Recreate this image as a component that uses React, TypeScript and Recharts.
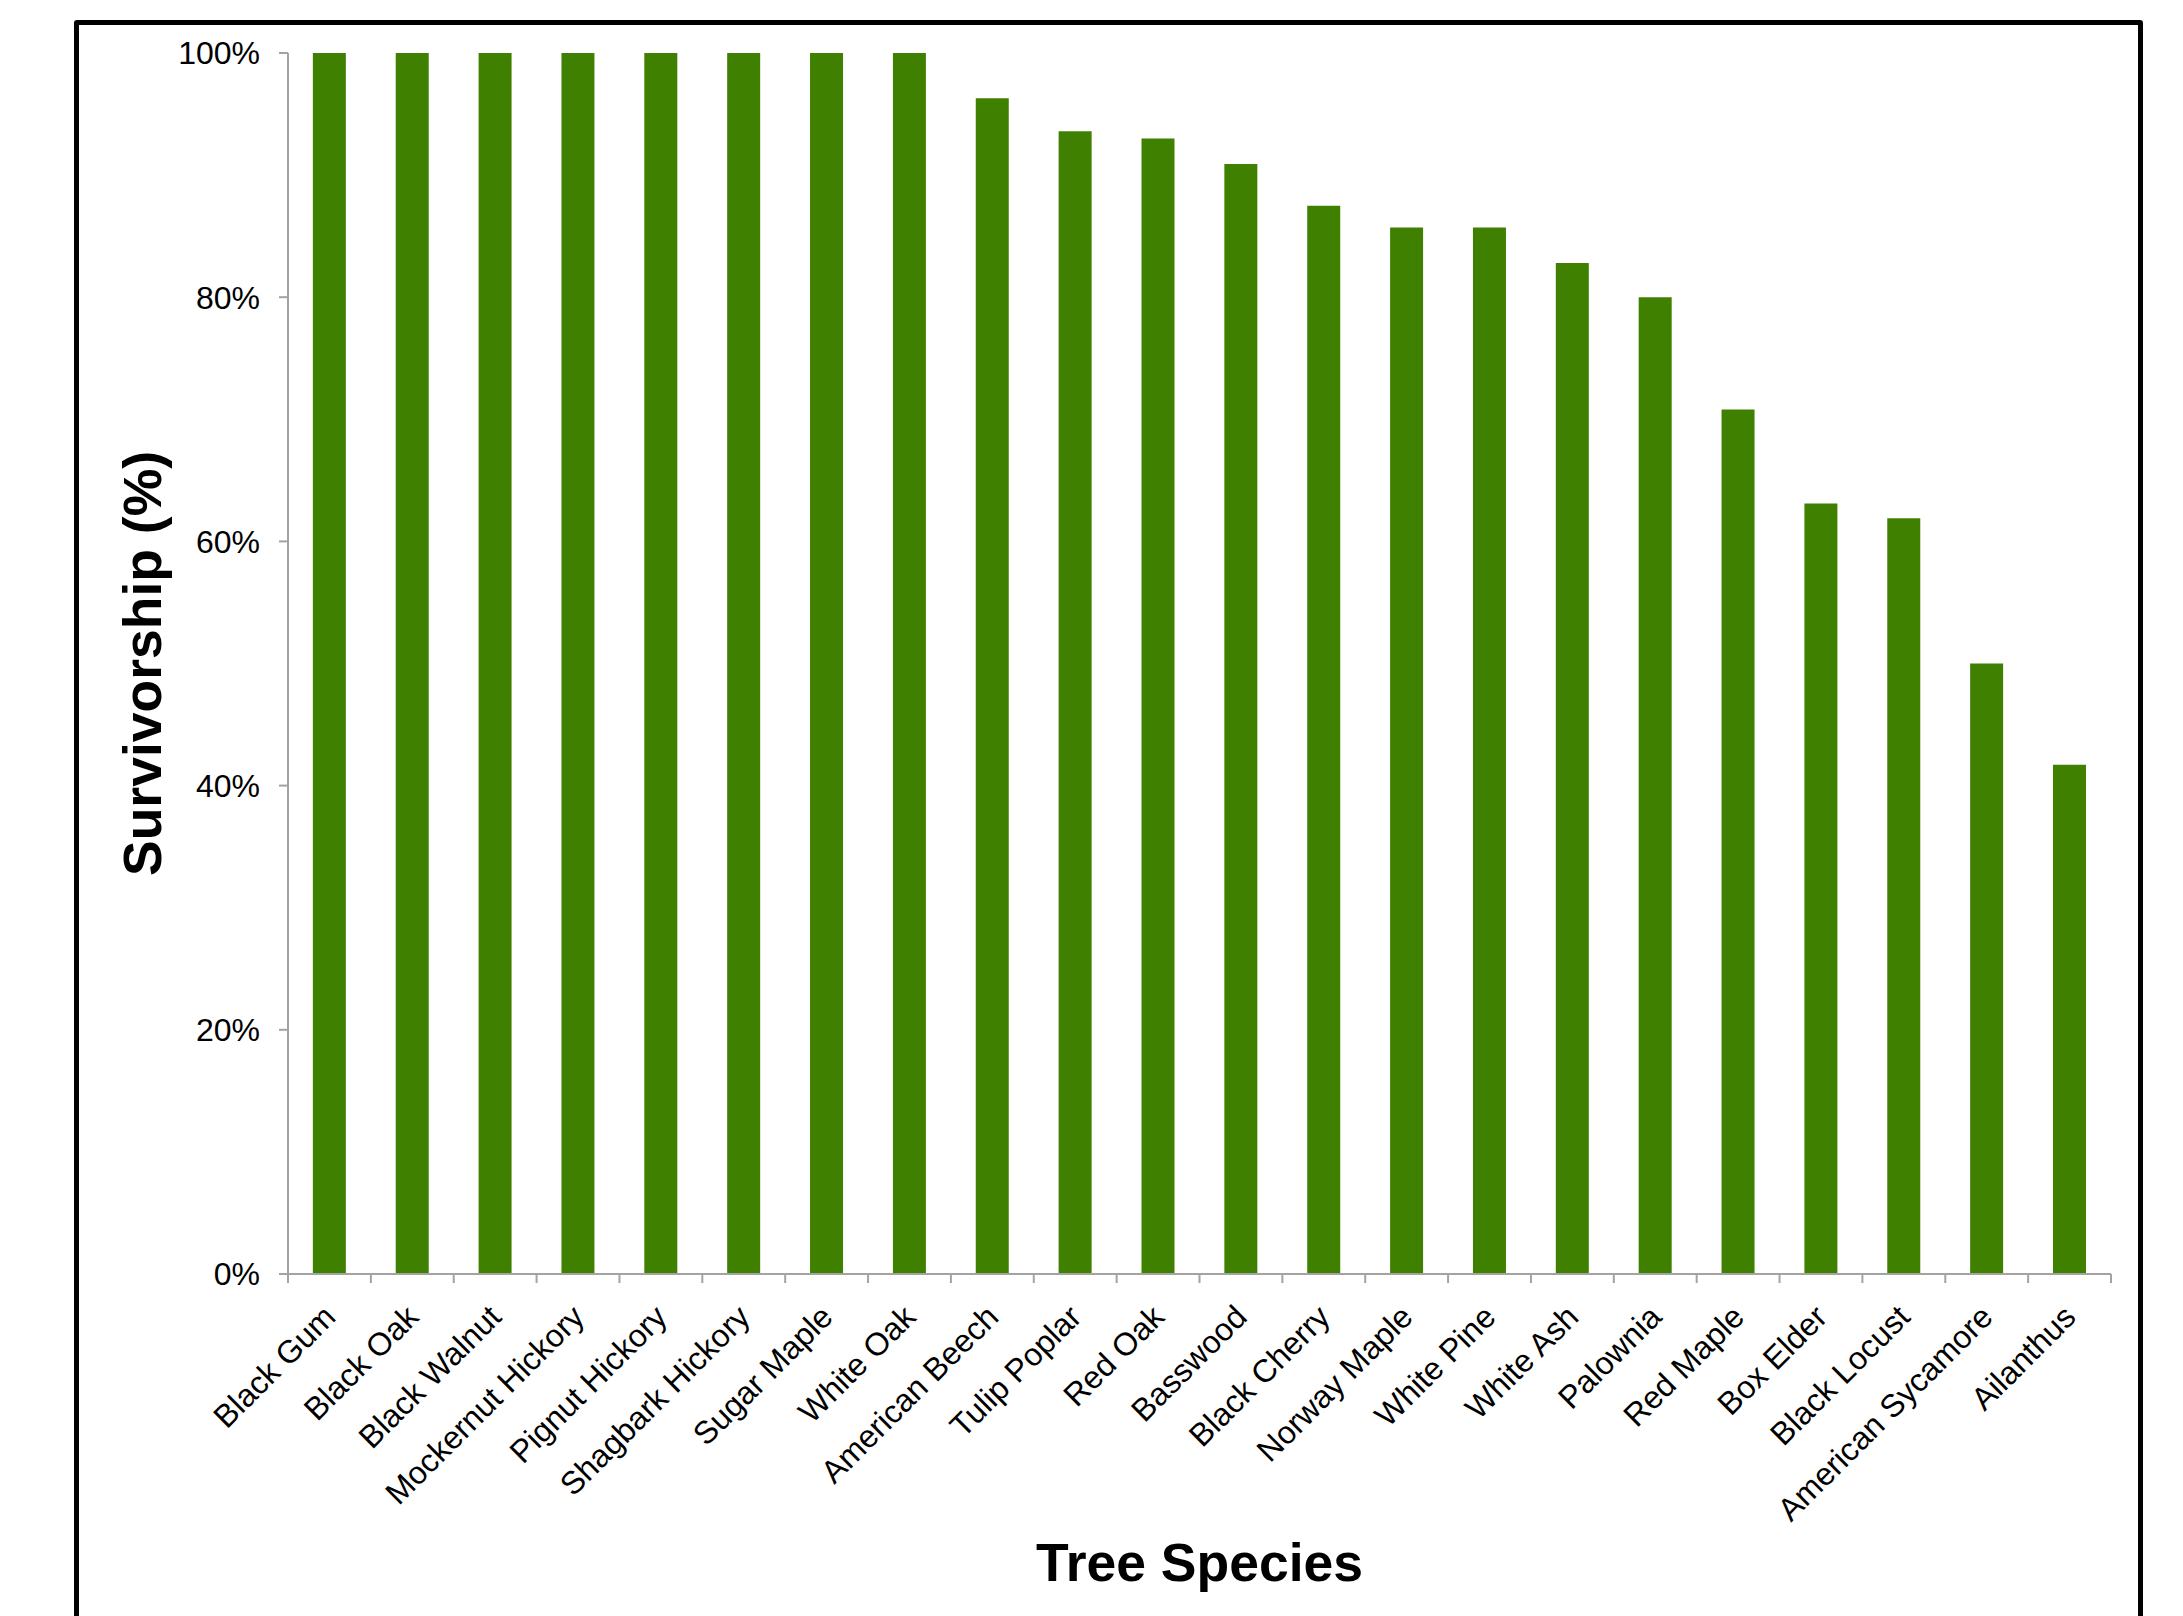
import { BarChart, Bar, XAxis, YAxis } from 'recharts';

// Tree survivorship by species (%)
const species = [
  'Black Gum',
  'Black Oak',
  'Black Walnut',
  'Mockernut Hickory',
  'Pignut Hickory',
  'Shagbark Hickory',
  'Sugar Maple',
  'White Oak',
  'American Beech',
  'Tulip Poplar',
  'Red Oak',
  'Basswood',
  'Black Cherry',
  'Norway Maple',
  'White Pine',
  'White Ash',
  'Palownia',
  'Red Maple',
  'Box Elder',
  'Black Locust',
  'American Sycamore',
  'Ailanthus',
];

const survivorship = [
  100, 100, 100, 100, 100, 100, 100, 100, 96.3, 93.6, 93.0, 90.9, 87.5, 85.7, 85.7, 82.8, 80.0,
  70.8, 63.1, 61.9, 50.0, 41.7,
];

const yTicks = [0, 20, 40, 60, 80, 100];

const data = species.map((name, i) => ({ name, value: survivorship[i] }));

const FONT = '"Liberation Sans", Arial, Helvetica, sans-serif';
const AXIS_GRAY = '#a3a3a3';
const BAR_GREEN = '#408000';

const W = 2183;
const H = 1616;
const PLOT_LEFT = 288;
const PLOT_RIGHT = 2111;
const PLOT_TOP = 53;
const PLOT_BOTTOM = 1274;

// x tick: boundary tick marks + rotated species name
function SpeciesTick(props: any) {
  const { x, y, payload, index } = props;
  const half = payload?.offset || (PLOT_RIGHT - PLOT_LEFT) / species.length / 2;
  const px = x + 8;
  const py = y + 45;
  const last = index === species.length - 1;
  return (
    <g>
      <line x1={x - half} y1={y} x2={x - half} y2={y + 9} stroke={AXIS_GRAY} strokeWidth={2} />
      {last && <line x1={x + half} y1={y} x2={x + half} y2={y + 9} stroke={AXIS_GRAY} strokeWidth={2} />}
      <text
        x={px}
        y={py}
        textAnchor="end"
        transform={`rotate(-45, ${px}, ${py})`}
        fontSize={32}
        fontFamily={FONT}
        fill="#000"
      >
        {payload.value}
      </text>
    </g>
  );
}

function XTitle(props: any) {
  const vb = props.viewBox || {};
  const x = vb.width ? vb.x + vb.width / 2 : (PLOT_LEFT + PLOT_RIGHT) / 2;
  return (
    <text x={x} y={1581} textAnchor="middle" fontSize={53.5} fontWeight="bold" fontFamily={FONT} fill="#000">
      Tree Species
    </text>
  );
}

function YTitle() {
  const cx = 161;
  const cy = (PLOT_TOP + PLOT_BOTTOM) / 2;
  return (
    <text
      x={cx}
      y={cy}
      textAnchor="middle"
      transform={`rotate(-90, ${cx}, ${cy})`}
      fontSize={53.5}
      fontWeight="bold"
      fontFamily={FONT}
      fill="#000"
    >
      Survivorship (%)
    </text>
  );
}

export default function App() {
  return (
    <div style={{ position: 'absolute', left: 0, top: 0, width: W, height: H, overflow: 'hidden', background: '#fff' }}>
      {/* outer frame, open at the bottom of the picture */}
      <div
        style={{
          position: 'absolute',
          left: 74,
          top: 20,
          width: 2069,
          height: 1700,
          border: '5px solid #000',
          borderRadius: 3,
          boxSizing: 'border-box',
        }}
      />
      <div style={{ position: 'absolute', left: 0, top: 0 }}>
        <BarChart
          width={W}
          height={H}
          data={data}
          margin={{ top: PLOT_TOP, right: W - PLOT_RIGHT, left: 0, bottom: 0 }}
          barCategoryGap="30%"
        >
          <XAxis
            dataKey="name"
            interval={0}
            height={H - PLOT_BOTTOM}
            tickLine={false}
            tickSize={0}
            tickMargin={0}
            axisLine={{ stroke: AXIS_GRAY, strokeWidth: 2 }}
            tick={<SpeciesTick />}
            label={(p: any) => <XTitle {...p} />}
          />
          <YAxis
            domain={[0, 100]}
            ticks={yTicks}
            interval={0}
            width={PLOT_LEFT}
            tickSize={9}
            tickMargin={19}
            tickFormatter={(v: number) => `${v}%`}
            axisLine={{ stroke: AXIS_GRAY, strokeWidth: 2 }}
            tickLine={{ stroke: AXIS_GRAY, strokeWidth: 2 }}
            tick={{ fontSize: 32, fill: '#000', fontFamily: FONT }}
            label={() => <YTitle />}
          />
          <Bar dataKey="value" fill={BAR_GREEN} isAnimationActive={false} />
        </BarChart>
      </div>
    </div>
  );
}
